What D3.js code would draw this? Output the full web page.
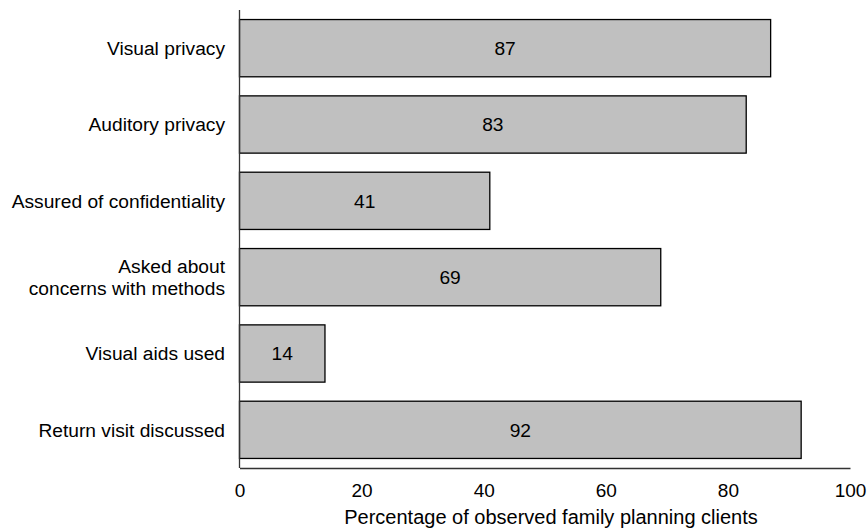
<!DOCTYPE html>
<html><head><meta charset="utf-8">
<script src="https://cdn.jsdelivr.net/npm/d3@7"></script>
<style>body{margin:0;background:#fff}text{font-family:"Liberation Sans",Arial,sans-serif;fill:#000}</style>
</head><body><svg id="c" width="868" height="529"></svg>
<script>
const categories = ["Visual privacy","Auditory privacy","Assured of confidentiality","Asked about\nconcerns with methods","Visual aids used","Return visit discussed"];
const values = [87,83,41,69,14,92];
const xTicks = [0,20,40,60,80,100];
const xTitle = "Percentage of observed family planning clients";

const svg = d3.select("#c");
const x = d3.scaleLinear().domain([0,100]).range([239.5,850]);
const y = d3.scaleBand().domain(categories).range([10,468]).paddingInner(0.25).paddingOuter(0.125);
const fs = 19.2;

svg.selectAll("rect.bar").data(values).join("rect")
  .attr("x", x(0)).attr("y",(d,i)=>y(categories[i]))
  .attr("width", d=>x(d)-x(0)).attr("height", y.bandwidth())
  .attr("fill","#c0c0c0").attr("stroke","#000").attr("stroke-width",1.3);

svg.selectAll("text.val").data(values).join("text")
  .attr("x", d=>(x(0)+x(d))/2).attr("y",(d,i)=>y(categories[i])+y.bandwidth()/2)
  .attr("dy","0.35em").attr("text-anchor","middle").attr("font-size",fs).text(d=>d);

categories.forEach(c=>{
  const lines = c.split("\n");
  const cy = y(c)+y.bandwidth()/2;
  const lh = 22.7;
  lines.forEach((l,j)=>{
    svg.append("text").attr("x",225).attr("y",cy+(j-(lines.length-1)/2)*lh)
      .attr("dy","0.35em").attr("text-anchor","end").attr("font-size",fs).text(l);
  });
});

const xa = svg.append("g").attr("transform","translate(0,468)")
  .call(d3.axisBottom(x).tickValues(xTicks).tickSize(0).tickPadding(16).tickFormat(d3.format("d")));
xa.select(".domain").attr("stroke","#333").attr("stroke-width",1.3);
xa.selectAll("text").attr("font-size",19).attr("font-family","Liberation Sans, Arial, sans-serif").attr("fill","#000");

svg.append("line").attr("x1",239.5).attr("x2",239.5).attr("y1",10).attr("y2",468).attr("stroke","#333").attr("stroke-width",1.3);

svg.append("text").attr("x",551).attr("y",524).attr("text-anchor","middle").attr("font-size",20).text(xTitle);
</script></body></html>
